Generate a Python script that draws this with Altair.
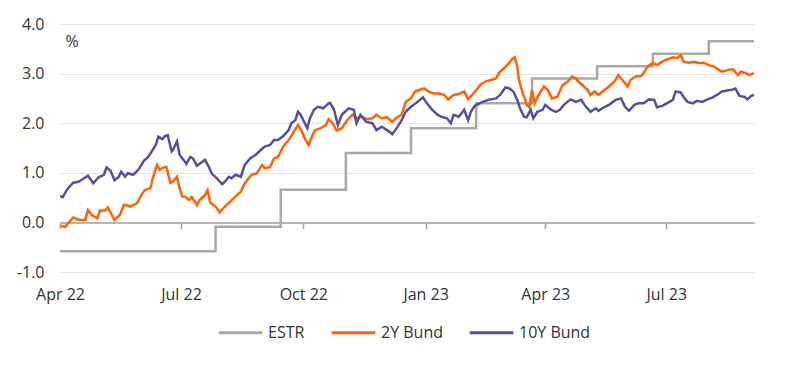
import altair as alt
import pandas as pd

# ESTR step changes (date, value)
estr_dates = ["2022-04-01", "2022-07-27", "2022-09-14", "2022-11-02", "2022-12-21",
              "2023-02-08", "2023-03-22", "2023-05-10", "2023-06-21", "2023-08-02", "2023-09-05"]
estr_values = [-0.58, -0.09, 0.66, 1.40, 1.90, 2.40, 2.90, 3.15, 3.40, 3.65, 3.65]

# days since 2022-04-01
y2_days = [0, 4, 6, 10, 14, 19, 21, 24, 28, 30, 34, 36, 38, 41, 45, 48, 50, 53, 58, 62, 64, 68, 70, 73,
           75, 78, 80, 83, 85, 88, 90, 92, 94, 97, 99, 103, 105, 109, 111, 113, 117, 120, 124, 128, 132,
           136, 139, 144, 148, 152, 154, 158, 161, 164, 168, 172, 176, 179, 182, 184, 187, 190, 192, 196,
           200, 202, 205, 208, 212, 216, 220, 223, 227, 231, 235, 238, 242, 246, 250, 254, 257, 260, 264,
           267, 271, 274, 277, 281, 285, 289, 292, 296, 300, 304, 307, 310, 314, 316, 320, 324, 328, 330,
           334, 338, 340, 342, 344, 345, 348, 350, 351, 353, 355, 357, 360, 364, 367, 370, 374, 378, 382,
           385, 388, 390, 393, 397, 399, 402, 405, 409, 413, 417, 420, 424, 427, 429, 433, 437, 439, 442,
           446, 449, 453, 457, 461, 464, 467, 469, 473, 477, 481, 484, 488, 492, 496, 498, 502, 506, 510,
           512, 516, 518, 522]
y2_values = [-0.07, -0.09, -0.02, 0.10, 0.05, 0.05, 0.25, 0.15, 0.08, 0.24, 0.24, 0.30, 0.20, 0.05, 0.15,
             0.35, 0.35, 0.32, 0.39, 0.59, 0.65, 0.69, 0.91, 1.16, 1.06, 1.11, 1.12, 0.80, 0.82, 0.92, 0.69,
             0.52, 0.52, 0.45, 0.51, 0.35, 0.45, 0.55, 0.65, 0.40, 0.32, 0.20, 0.32, 0.42, 0.52, 0.62, 0.79,
             0.96, 0.99, 1.16, 1.09, 1.12, 1.29, 1.32, 1.53, 1.66, 1.83, 1.96, 1.83, 1.70, 1.56, 1.76, 1.86,
             1.90, 1.96, 2.08, 2.00, 1.85, 1.90, 2.06, 2.17, 2.10, 2.13, 2.08, 2.10, 2.17, 2.10, 2.12, 2.03,
             2.13, 2.17, 2.43, 2.50, 2.64, 2.68, 2.70, 2.64, 2.60, 2.60, 2.57, 2.48, 2.57, 2.59, 2.64, 2.48,
             2.57, 2.70, 2.77, 2.84, 2.87, 2.90, 3.01, 3.11, 3.22, 3.29, 3.33, 3.14, 2.90, 2.60, 2.47, 2.37,
             2.32, 2.67, 2.40, 2.57, 2.74, 2.67, 2.50, 2.53, 2.77, 2.84, 2.94, 2.90, 2.84, 2.77, 2.67, 2.57,
             2.64, 2.57, 2.66, 2.74, 2.84, 2.97, 2.84, 2.74, 2.87, 2.94, 2.95, 3.01, 3.14, 3.22, 3.17, 3.24,
             3.29, 3.33, 3.31, 3.37, 3.24, 3.22, 3.24, 3.21, 3.22, 3.17, 3.14, 3.07, 3.04, 3.07, 3.09, 2.97,
             3.04, 3.01, 2.97, 3.01]

y10_days = [0, 2, 6, 10, 14, 17, 21, 25, 29, 33, 35, 38, 41, 44, 46, 49, 51, 55, 59, 63, 66, 69, 72, 74,
            77, 79, 81, 84, 85, 88, 90, 93, 95, 98, 100, 103, 105, 109, 112, 114, 118, 122, 124, 127, 129,
            132, 136, 139, 143, 147, 151, 154, 158, 161, 164, 168, 172, 174, 177, 179, 181, 183, 186, 188,
            191, 194, 198, 202, 203, 206, 209, 212, 217, 221, 223, 226, 230, 235, 238, 242, 246, 250, 254,
            257, 260, 264, 269, 273, 276, 280, 284, 287, 291, 294, 296, 300, 304, 307, 309, 312, 318, 322,
            328, 331, 335, 338, 341, 344, 346, 349, 351, 354, 356, 359, 363, 365, 369, 373, 376, 379, 384,
            388, 392, 395, 399, 403, 405, 409, 413, 418, 422, 425, 428, 432, 435, 439, 443, 447, 449, 453,
            457, 461, 463, 467, 469, 472, 476, 479, 483, 487, 491, 494, 498, 502, 506, 508, 511, 515, 517,
            520, 522]
y10_values = [0.53, 0.51, 0.69, 0.80, 0.82, 0.87, 0.94, 0.79, 0.91, 0.96, 1.11, 1.04, 0.85, 0.91, 1.02,
              0.92, 0.99, 0.96, 1.06, 1.24, 1.31, 1.43, 1.56, 1.73, 1.68, 1.74, 1.76, 1.43, 1.46, 1.63, 1.36,
              1.26, 1.18, 1.32, 1.29, 1.14, 1.18, 1.26, 1.12, 0.99, 0.89, 0.77, 0.82, 0.92, 0.89, 0.96, 0.92,
              1.16, 1.29, 1.36, 1.46, 1.53, 1.56, 1.66, 1.66, 1.74, 1.86, 2.00, 2.06, 2.23, 2.17, 2.06, 1.90,
              2.10, 2.27, 2.33, 2.30, 2.40, 2.41, 2.28, 1.96, 2.17, 2.30, 2.27, 2.00, 2.17, 2.03, 2.00, 1.86,
              1.93, 1.86, 1.78, 1.93, 2.06, 2.23, 2.33, 2.43, 2.52, 2.40, 2.27, 2.17, 2.13, 2.10, 2.00, 2.17,
              2.13, 2.27, 2.06, 2.23, 2.35, 2.43, 2.47, 2.50, 2.57, 2.72, 2.70, 2.64, 2.47, 2.30, 2.13, 2.12,
              2.27, 2.10, 2.23, 2.27, 2.37, 2.28, 2.23, 2.27, 2.37, 2.48, 2.43, 2.47, 2.35, 2.23, 2.30, 2.25,
              2.32, 2.37, 2.47, 2.50, 2.33, 2.25, 2.37, 2.40, 2.40, 2.48, 2.47, 2.32, 2.35, 2.41, 2.47, 2.64,
              2.62, 2.53, 2.43, 2.40, 2.45, 2.43, 2.48, 2.52, 2.57, 2.64, 2.66, 2.68, 2.70, 2.55, 2.53, 2.48,
              2.55, 2.57]

series_names = ["ESTR", "2Y Bund", "10Y Bund"]
series_colors = ["#A8A8A8", "#FF6200", "#525199"]
x_tick_dates = [(2022, 4), (2022, 7), (2022, 10), (2023, 1), (2023, 4), (2023, 7)]
y_ticks = [-1, 0, 1, 2, 3, 4]

start = pd.Timestamp("2022-04-01")
estr_df = pd.DataFrame({"date": pd.to_datetime(estr_dates), "value": estr_values, "series": "ESTR"})
y2_df = pd.DataFrame({"date": start + pd.to_timedelta(y2_days, unit="D"), "value": y2_values, "series": "2Y Bund"})
y10_df = pd.DataFrame({"date": start + pd.to_timedelta(y10_days, unit="D"), "value": y10_values, "series": "10Y Bund"})
bund_df = pd.concat([y2_df, y10_df], ignore_index=True)

W, H = 694, 248
FONT = "Open Sans"
TXT = "#333333"

x_enc = alt.X(
    "date:T",
    scale=alt.Scale(domain=[alt.DateTime(year=2022, month=4, date=1), alt.DateTime(year=2023, month=9, date=5)]),
    axis=alt.Axis(
        title=None, format="%b %y", values=[alt.DateTime(year=y, month=m, date=1) for y, m in x_tick_dates],
        offset=-H / 5, domain=True, domainColor="#A0A0A0", domainWidth=1.5,
        ticks=True, tickSize=6, tickColor="#A0A0A0", tickWidth=1.5,
        labelPadding=58, grid=False, labelAlign="center",
    ),
)
y_enc = alt.Y(
    "value:Q",
    scale=alt.Scale(domain=[-1, 4], nice=False),
    axis=alt.Axis(
        title="%", titleAngle=0, titleAlign="left", titleBaseline="middle", titleX=5, titleY=17,
        titleFontWeight="normal", titleFontSize=16, titleFont=FONT, titleColor=TXT,
        values=y_ticks,
        labelExpr="datum.value < 0 ? '-' + format(-datum.value, '.1f') : format(datum.value, '.1f')",
        domain=False, ticks=False, tickSize=0, labelPadding=16,
        grid=True, gridColor="#E3E3E3", gridWidth=1,
    ),
)
color_enc = alt.Color(
    "series:N",
    scale=alt.Scale(domain=series_names, range=series_colors),
    legend=alt.Legend(
        title=None, orient="none", direction="horizontal", legendX=157, legendY=285,
        symbolType="stroke", symbolSize=1900, symbolStrokeWidth=3, labelOffset=4,
        columnPadding=20, labelFontSize=16, labelFont=FONT, labelColor=TXT,
    ),
)

estr = alt.Chart(estr_df).mark_line(interpolate="step-after", strokeWidth=2.5).encode(
    x=x_enc, y=y_enc, color=color_enc
)
bunds = alt.Chart(bund_df).mark_line(strokeWidth=2.5).encode(
    x=x_enc, y=y_enc, color=color_enc, detail="series:N",
    order=alt.Order("date:T"),
)

chart = alt.layer(estr, bunds).properties(
    width=W, height=H,
    autosize=alt.AutoSizeParams(type="none"),
    padding={"left": 52, "top": 16, "right": 38, "bottom": 88},
).configure_view(stroke=None).configure_axis(
    labelFont=FONT, labelFontSize=16, labelColor=TXT
)

chart.save("out.html", embed_options={"renderer": "svg", "actions": False})
